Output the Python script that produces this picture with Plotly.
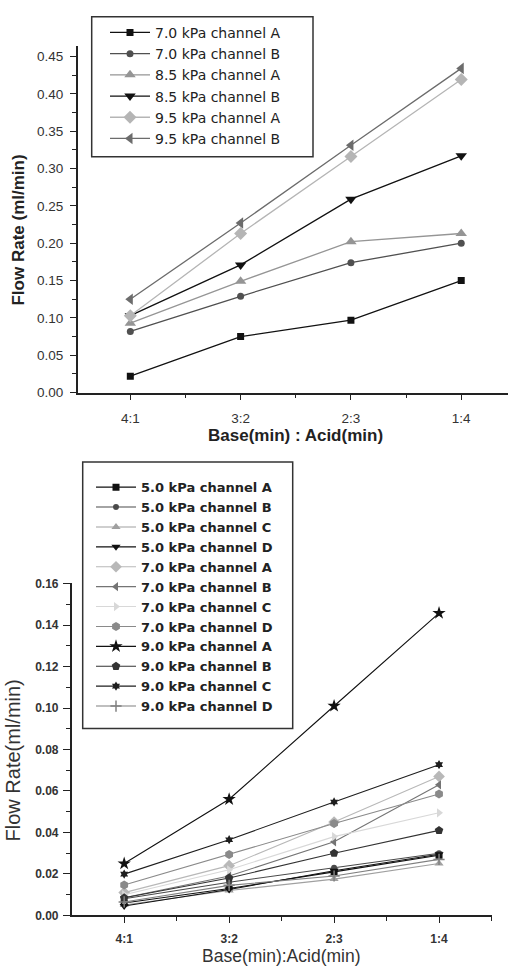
import plotly.graph_objects as go

W, H = 510, 972

# ---------------- data ----------------
ratios = ["4:1", "3:2", "2:3", "1:4"]

top_names = ["7.0 kPa channel A", "7.0 kPa channel B", "8.5 kPa channel A",
             "8.5 kPa channel B", "9.5 kPa channel A", "9.5 kPa channel B"]
top_70A = [0.022, 0.075, 0.097, 0.150]
top_70B = [0.082, 0.129, 0.174, 0.200]
top_85A = [0.093, 0.149, 0.202, 0.213]
top_85B = [0.103, 0.171, 0.259, 0.317]
top_95A = [0.103, 0.213, 0.316, 0.419]
top_95B = [0.125, 0.227, 0.331, 0.434]

bot_names = ["5.0 kPa channel A", "5.0 kPa channel B", "5.0 kPa channel C", "5.0 kPa channel D",
             "7.0 kPa channel A", "7.0 kPa channel B", "7.0 kPa channel C", "7.0 kPa channel D",
             "9.0 kPa channel A", "9.0 kPa channel B", "9.0 kPa channel C", "9.0 kPa channel D"]
bot_50A = [0.006, 0.013, 0.021, 0.029]
bot_50B = [0.008, 0.016, 0.023, 0.030]
bot_50C = [0.005, 0.012, 0.0175, 0.025]
bot_50D = [0.0045, 0.0125, 0.0215, 0.0295]
bot_70A = [0.011, 0.024, 0.045, 0.067]
bot_70B = [0.0085, 0.019, 0.0355, 0.063]
bot_70C = [0.010, 0.022, 0.038, 0.0495]
bot_70D = [0.0147, 0.0294, 0.0443, 0.0585]
bot_90A = [0.025, 0.056, 0.101, 0.1458]
bot_90B = [0.0085, 0.018, 0.030, 0.041]
bot_90C = [0.0199, 0.0365, 0.0547, 0.0727]
bot_90D = [0.0065, 0.0145, 0.019, 0.027]

top_series = [top_70A, top_70B, top_85A, top_85B, top_95A, top_95B]
bot_series = [bot_50A, bot_50B, bot_50C, bot_50D, bot_70A, bot_70B, bot_70C, bot_70D,
              bot_90A, bot_90B, bot_90C, bot_90D]

# ---------------- styles ----------------
top_styles = [
    dict(color="#111111", symbol="square", size=7),
    dict(color="#505050", symbol="circle", size=7),
    dict(color="#959595", symbol="triangle-up", size=10),
    dict(color="#111111", symbol="triangle-down", size=10),
    dict(color="#b5b5b5", symbol="diamond", size=10),
    dict(color="#6c6c6c", symbol="triangle-left", size=10),
]
bot_styles = [
    dict(color="#111111", symbol="square", size=7),
    dict(color="#4a4a4a", symbol="circle", size=6),
    dict(color="#a0a0a0", symbol="triangle-up", size=8),
    dict(color="#111111", symbol="triangle-down", size=8),
    dict(color="#b8b8b8", symbol="diamond", size=9),
    dict(color="#747474", symbol="triangle-left", size=8),
    dict(color="#d8d8d8", symbol="triangle-right", size=8),
    dict(color="#8a8a8a", symbol="hexagon", size=9),
    dict(color="#111111", symbol="star", size=10),
    dict(color="#333333", symbol="pentagon", size=9),
    dict(color="#1e1e1e", symbol="hexagram", size=7),
    dict(color="#808080", symbol="cross-thin", size=8),
]

xi = list(range(len(ratios)))

def fx(px):
    return px / W

def fy(py):
    return 1 - py / H

fig = go.Figure()

for name, vals, st in zip(top_names, top_series, top_styles):
    fig.add_trace(go.Scatter(
        x=xi, y=vals, name=name, mode="lines+markers",
        line=dict(color=st["color"], width=1.3),
        marker=dict(symbol=st["symbol"], size=st["size"], color=st["color"]),
        xaxis="x", yaxis="y", legend="legend"))

for name, vals, st in zip(bot_names, bot_series, bot_styles):
    mk = dict(symbol=st["symbol"], size=st["size"], color=st["color"])
    if st["symbol"] == "cross-thin":
        mk["line"] = dict(color=st["color"], width=1.5)
    fig.add_trace(go.Scatter(
        x=xi, y=vals, name=name, mode="lines+markers",
        line=dict(color=st["color"], width=1.1),
        marker=mk,
        xaxis="x2", yaxis="y2", legend="legend2"))

axis_common = dict(showline=True, linecolor="#222222", linewidth=1.5, showgrid=False,
                   zeroline=False, ticks="outside", tickcolor="#222222", tickwidth=1.2)

tick_font_top = dict(family="Liberation Sans, Arial, sans-serif", size=13.5, color="#333333")
tick_font_bot = dict(family="Liberation Sans, Arial, sans-serif", size=12, color="#333333", weight="bold")

fig.update_layout(
    width=W, height=H, margin=dict(l=0, r=0, t=0, b=0),
    paper_bgcolor="white", plot_bgcolor="white",
    xaxis=dict(**axis_common, domain=[fx(77.7), fx(508)], range=[-0.477, 3.424],
               tickmode="array", tickvals=xi, ticktext=ratios, ticklen=6,
               minor=dict(tickvals=[-0.5, 0.5, 1.5, 2.5, 3.5], ticks="outside", ticklen=4,
                          tickcolor="#222222", tickwidth=1.2),
               tickfont=tick_font_top, ticklabelstandoff=6, anchor="y"),
    yaxis=dict(**axis_common, domain=[fy(392.3), fy(41)], range=[0, 0.4634],
               tickmode="linear", tick0=0, dtick=0.05, tickformat=".2f", ticklen=6,
               minor=dict(dtick=0.025, tick0=0, ticks="outside", ticklen=4,
                          tickcolor="#222222", tickwidth=1.2),
               tickfont=tick_font_top, ticklabelstandoff=4, anchor="x"),
    xaxis2=dict(**axis_common, domain=[fx(71.7), fx(491.5)], range=[-0.5, 3.5],
                tickmode="array", tickvals=xi, ticktext=ratios, ticklen=6,
                minor=dict(tickvals=[0.5, 1.5, 2.5, 3.5], ticks="outside", ticklen=4,
                           tickcolor="#222222", tickwidth=1.2),
                tickfont=tick_font_bot, ticklabelstandoff=5, anchor="y2"),
    yaxis2=dict(**axis_common, domain=[fy(922.7), fy(585)], range=[0, 0.1605],
                tickmode="linear", tick0=0, dtick=0.02, tickformat=".2f", ticklen=7,
                minor=dict(dtick=0.01, tick0=0, ticks="outside", ticklen=4,
                           tickcolor="#222222", tickwidth=1.2),
                tickfont=tick_font_bot, ticklabelstandoff=2, anchor="x2"),
    legend=dict(x=fx(105), y=fy(11), xanchor="left", yanchor="top",
                bgcolor="rgba(0,0,0,0)", borderwidth=0, itemwidth=40,
                font=dict(family="DejaVu Sans, sans-serif", size=14, color="#222222"),
                tracegroupgap=0),
    legend2=dict(x=fx(91), y=fy(473), xanchor="left", yanchor="top",
                 bgcolor="rgba(0,0,0,0)", borderwidth=0, itemwidth=40,
                 font=dict(family="DejaVu Sans, sans-serif", size=13, color="#222222", weight="bold"),
                 tracegroupgap=0),
    shapes=[
        dict(type="rect", xref="paper", yref="paper", x0=fx(91.7), x1=fx(313), y0=fy(153), y1=fy(11),
             line=dict(color="#333333", width=1.5)),
        dict(type="rect", xref="paper", yref="paper", x0=fx(82.7), x1=fx(292.7), y0=fy(733), y1=fy(462.7),
             line=dict(color="#333333", width=1.5)),
    ],
    annotations=[
        dict(text="<b>Flow Rate (ml/min)</b>", xref="paper", yref="paper", x=fx(18.3), y=fy(227.5),
             textangle=-90, showarrow=False, xanchor="center", yanchor="middle",
             font=dict(family="Liberation Sans, Arial, sans-serif", size=17, color="#222222")),
        dict(text="<b>Base(min) : Acid(min)</b>", xref="paper", yref="paper", x=fx(295), y=fy(435.5),
             showarrow=False, xanchor="center", yanchor="middle",
             font=dict(family="Liberation Sans, Arial, sans-serif", size=17, color="#222222")),
        dict(text="Flow Rate(ml/min)", xref="paper", yref="paper", x=fx(12.5), y=fy(766),
             textangle=-90, showarrow=False, xanchor="center", yanchor="middle",
             font=dict(family="Liberation Sans, Arial, sans-serif", size=20, color="#333333")),
        dict(text="Base(min):Acid(min)", xref="paper", yref="paper", x=fx(281.7), y=fy(964),
             showarrow=False, xanchor="center", yanchor="middle",
             font=dict(family="Liberation Sans, Arial, sans-serif", size=17.5, color="#333333")),
    ],
)

fig.write_html("out.html")
